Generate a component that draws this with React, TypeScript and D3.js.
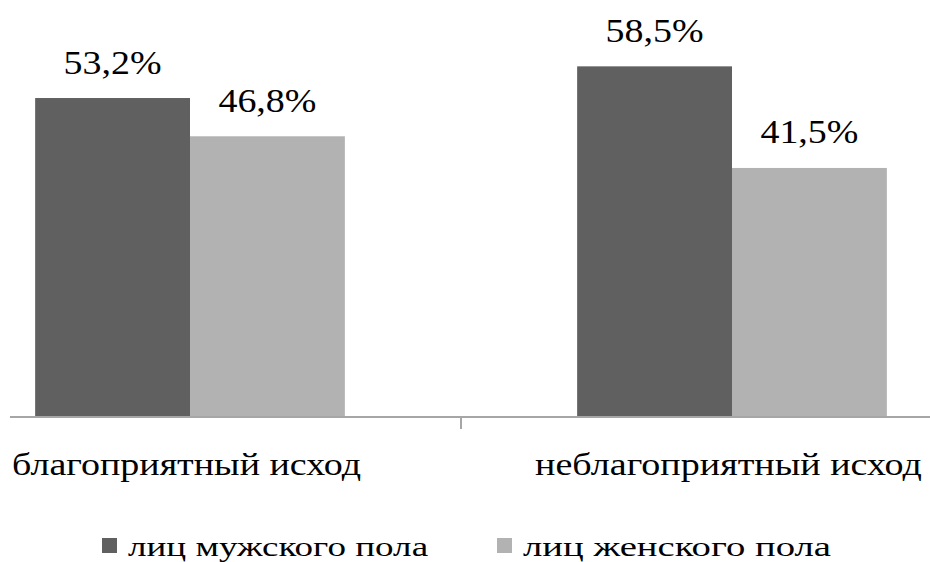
import React, { useLayoutEffect, useRef, useState } from "react";
import * as d3 from "d3";

const categories = ["благоприятный исход", "неблагоприятный исход"];
const seriesNames = ["лиц мужского пола", "лиц женского пола"];
const maleValues = [53.2, 58.5];
const femaleValues = [46.8, 41.5];
const seriesColors = ["#606060", "#b2b2b2"];

const W = 930;
const H = 562;
const baseY = 416;
const FONT = "Liberation Serif";
const BASE_SIZE = 30;

const fmt = (v: number) => v.toFixed(1).replace(".", ",") + "%";

type LabelProps = {
  x: number;
  y: number;
  text: string;
  size: number;
  width: number;
  anchor?: "start" | "middle" | "end";
};

// Text set at a fixed base size, then scaled to the requested height and
// stretched to the requested width (wide, loosely set serif lettering).
function Label({ x, y, text, size, width, anchor = "start" }: LabelProps) {
  const ref = useRef<SVGTextElement>(null);
  const [sx, setSx] = useState(1.2);
  useLayoutEffect(() => {
    if (ref.current) {
      const len = ref.current.getComputedTextLength();
      if (len > 0) setSx(width / len);
    }
  }, [text, width]);
  return (
    <text
      ref={ref}
      transform={`translate(${x},${y}) scale(${sx},${size / BASE_SIZE})`}
      fontSize={BASE_SIZE}
      textAnchor={anchor}
      fill="#000"
      style={{ fontFamily: FONT }}
    >
      {text}
    </text>
  );
}

export default function App() {
  const x0 = d3.scaleBand<string>().domain(categories).range([-81, 1003]).paddingInner(0);
  const x1 = d3
    .scaleBand<string>()
    .domain(seriesNames)
    .range([0, x0.bandwidth()])
    .paddingInner(0)
    .paddingOuter(0.75);
  const y = d3.scaleLinear().domain([0, 70]).range([baseY, baseY - 70 * 5.977]);

  const seriesValues = [maleValues, femaleValues];
  const bars = categories.flatMap((c, ci) =>
    seriesNames.map((s, si) => ({ c, s, si, v: seriesValues[si][ci] }))
  );

  const legendX = [102, 497];
  const legendWidths = [300, 308];

  return (
    <svg
      width={W}
      height={H}
      style={{ position: "absolute", left: 0, top: 0, background: "#fff" }}
    >
      {bars.map((b) => {
        const bx = (x0(b.c) ?? 0) + (x1(b.s) ?? 0);
        return (
          <g key={b.c + b.s}>
            <rect
              x={bx}
              y={y(b.v)}
              width={x1.bandwidth()}
              height={baseY - y(b.v)}
              fill={seriesColors[b.si]}
            />
            <Label
              x={bx + x1.bandwidth() / 2}
              y={y(b.v) - 24.5}
              text={fmt(b.v)}
              size={33}
              width={98}
              anchor="middle"
            />
          </g>
        );
      })}
      <line x1={10} x2={930} y1={417} y2={417} stroke="#a6a6a6" strokeWidth={2} />
      <line x1={461} x2={461} y1={417} y2={429} stroke="#a6a6a6" strokeWidth={2} />
      <Label x={12} y={475} text={categories[0]} size={31} width={349} />
      <Label x={535} y={475} text={categories[1]} size={31} width={387} />
      {seriesNames.map((s, i) => (
        <g key={s}>
          <rect x={legendX[i]} y={538} width={15} height={15} fill={seriesColors[i]} />
          <Label x={legendX[i] + 26} y={556} text={s} size={28} width={legendWidths[i]} />
        </g>
      ))}
    </svg>
  );
}
